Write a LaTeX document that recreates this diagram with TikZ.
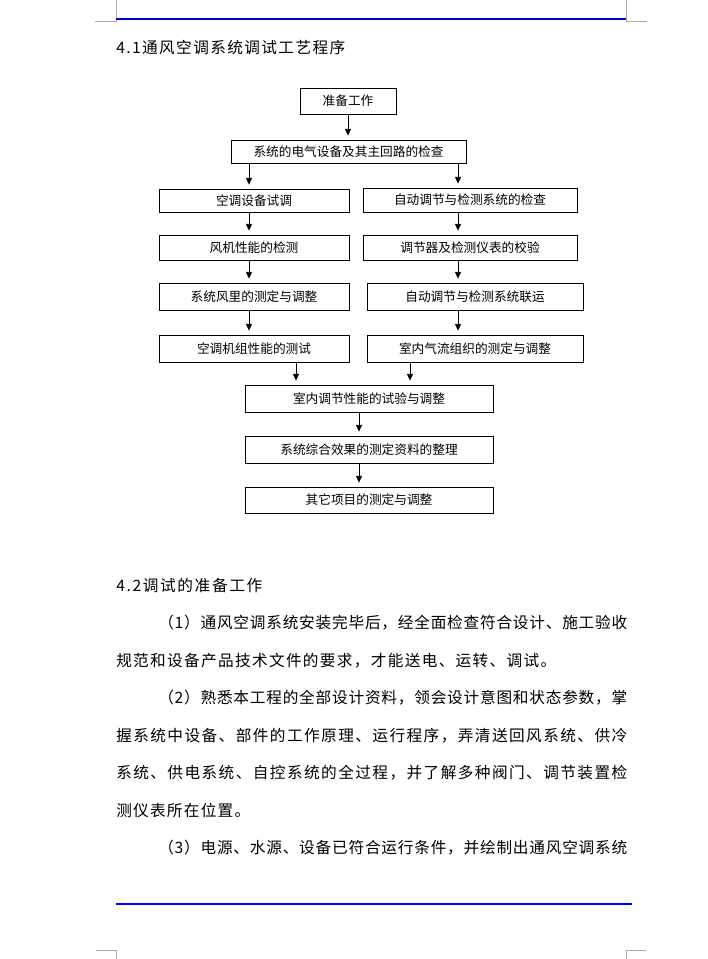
\documentclass[tikz,border=0pt]{standalone}
\usepackage{fontspec}
\setmainfont{Noto Sans CJK SC}
\usetikzlibrary{arrows.meta}
\newcommand{\spreadtok}[1]{\ifx#1\relax\else#1\hfill\expandafter\spreadtok\fi}
\newcommand{\spreadbox}[2]{\hbox to #1{\spreadtok#2\relax\unskip}}
\definecolor{markgray}{RGB}{170,170,170}
\definecolor{rulebluetop}{RGB}{0,0,204}
\definecolor{ruleblue}{RGB}{0,0,255}
\tikzset{
  flowbox/.style={draw, line width=0.6pt, inner sep=0pt, align=center, font=\fontsize{9.5}{11}\selectfont},
  flowarrow/.style={line width=0.6pt, -{Triangle[width=4.5pt,length=5pt]}, shorten >=3pt},
  bodyline/.style={anchor=west, inner sep=0pt, font=\fontsize{11.75}{14}\selectfont},
  cornermark/.style={markgray, line width=0.75pt}
}
\begin{document}
\begin{tikzpicture}[x=0.75pt, y=-0.75pt]
\useasboundingbox (0,0) rectangle (707,959);
\draw[cornermark] (116,0) -- (116,22) -- (95,22);
\draw[cornermark] (626,0) -- (626,22) -- (647,22);
\draw[rulebluetop, line width=0.8pt] (116,19) -- (626,19);
\draw[ruleblue, line width=1pt] (116,904) -- (632,904);
\draw[cornermark] (96,950) -- (116,950) -- (116,959);
\draw[cornermark] (626,959) -- (626,950) -- (646,950);

\node[bodyline] (title) at (116,48) {\spreadbox{171.75pt}{4.1通风空调系统调试工艺程序}};

\coordinate (leftcol) at (249,0);
\coordinate (rightcol) at (458,0);
\coordinate (mergeL) at (296,0);
\coordinate (mergeR) at (410,0);
\coordinate (centercol) at (359,0);

\node[flowbox, minimum width=72pt, minimum height=19.5pt] (prep) at (348,101) {准备工作};
\node[flowbox, minimum width=176.25pt, minimum height=17.25pt] (elec) at (348.5,151.5) {系统的电气设备及其主回路的检查};
\node[flowbox, minimum width=142.5pt, minimum height=17.25pt] (acTest) at (254,200.5) {空调设备试调};
\node[flowbox, minimum width=142.5pt, minimum height=18.75pt] (fan) at (254,247.5) {风机性能的检测};
\node[flowbox, minimum width=142.5pt, minimum height=20.25pt] (airVol) at (254,296.5) {系统风里的测定与调整};
\node[flowbox, minimum width=142.5pt, minimum height=20.25pt] (unit) at (254,348.5) {空调机组性能的测试};
\node[flowbox, minimum width=160.5pt, minimum height=18pt] (autoChk) at (470,200) {自动调节与检测系统的检查};
\node[flowbox, minimum width=160.5pt, minimum height=18.75pt] (calib) at (470,247.5) {调节器及检测仪表的校验};
\node[flowbox, minimum width=162pt, minimum height=20.25pt] (autoRun) at (475,296.5) {自动调节与检测系统联运};
\node[flowbox, minimum width=162pt, minimum height=20.25pt] (airflow) at (475,348.5) {室内气流组织的测定与调整};
\node[flowbox, minimum width=186pt, minimum height=20.25pt] (room) at (369,398.5) {室内调节性能的试验与调整};
\node[flowbox, minimum width=186pt, minimum height=20.25pt] (summary) at (369,449.5) {系统综合效果的测定资料的整理};
\node[flowbox, minimum width=186pt, minimum height=19.5pt] (other) at (369,500) {其它项目的测定与调整};

\draw[flowarrow] (prep.south) -- (prep.south |- elec.north);
\draw[flowarrow] (elec.south -| leftcol) -- (acTest.north -| leftcol);
\draw[flowarrow] (elec.south -| rightcol) -- (autoChk.north -| rightcol);
\draw[flowarrow] (acTest.south -| leftcol) -- (fan.north -| leftcol);
\draw[flowarrow] (fan.south -| leftcol) -- (airVol.north -| leftcol);
\draw[flowarrow] (airVol.south -| leftcol) -- (unit.north -| leftcol);
\draw[flowarrow] (autoChk.south -| rightcol) -- (calib.north -| rightcol);
\draw[flowarrow] (calib.south -| rightcol) -- (autoRun.north -| rightcol);
\draw[flowarrow] (autoRun.south -| rightcol) -- (airflow.north -| rightcol);
\draw[flowarrow] (unit.south -| mergeL) -- (room.north -| mergeL);
\draw[flowarrow] (airflow.south -| mergeR) -- (room.north -| mergeR);
\draw[flowarrow] (room.south -| centercol) -- (summary.north -| centercol);
\draw[flowarrow] (summary.south -| centercol) -- (other.north -| centercol);

\node[bodyline] (head2) at (116,585.5) {\spreadbox{109.5pt}{4.2调试的准备工作}};
\node[bodyline] (para1a) at (158,623) {\spreadbox{351.75pt}{（1）通风空调系统安装完毕后，经全面检查符合设计、施工验收}};
\node[bodyline] (para1b) at (116,660.5) {\spreadbox{330pt}{规范和设备产品技术文件的要求，才能送电、运转、调试。}};
\node[bodyline] (para2a) at (158,698) {\spreadbox{351.75pt}{（2）熟悉本工程的全部设计资料，领会设计意图和状态参数，掌}};
\node[bodyline] (para2b) at (116,735.5) {\spreadbox{383.25pt}{握系统中设备、部件的工作原理、运行程序，弄清送回风系统、供冷}};
\node[bodyline] (para2c) at (116,773) {\spreadbox{383.25pt}{系统、供电系统、自控系统的全过程，并了解多种阀门、调节装置检}};
\node[bodyline] (para2d) at (116,810.5) {\spreadbox{100.5pt}{测仪表所在位置。}};
\node[bodyline] (para3a) at (158,848) {\spreadbox{351.75pt}{（3）电源、水源、设备已符合运行条件，并绘制出通风空调系统}};
\end{tikzpicture}
\end{document}
